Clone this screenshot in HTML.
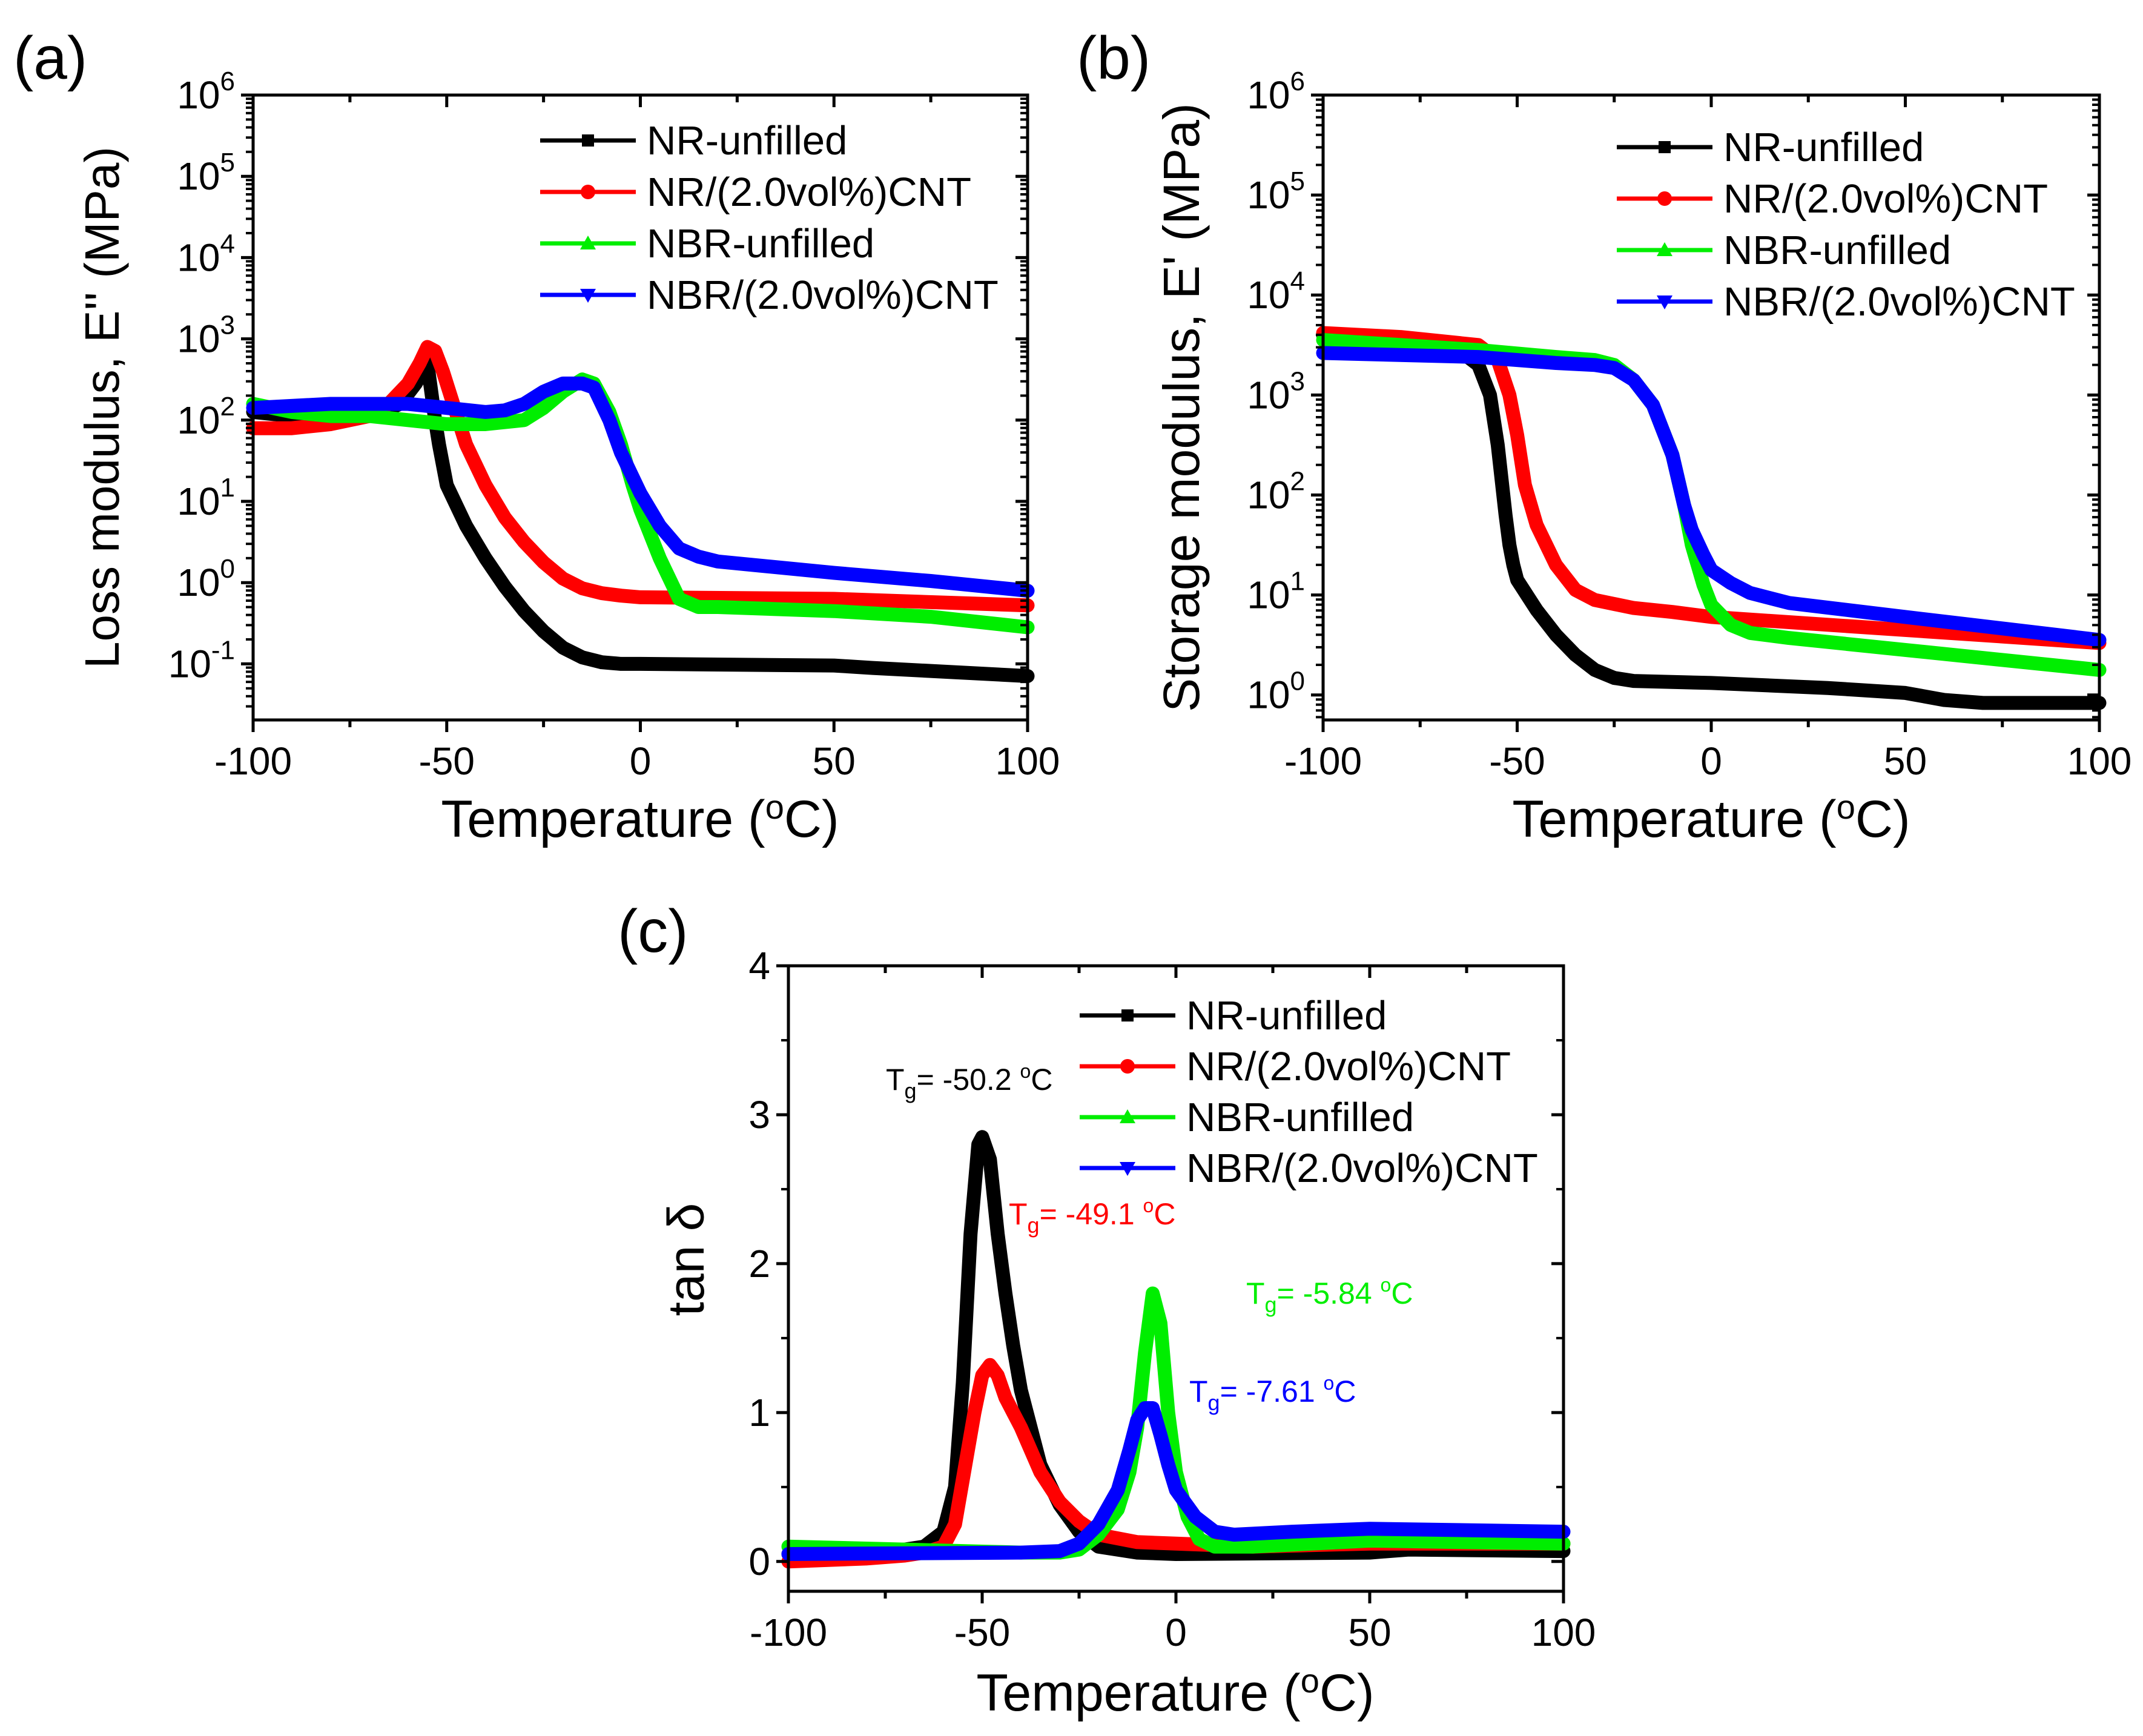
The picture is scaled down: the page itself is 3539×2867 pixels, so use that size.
<!DOCTYPE html>
<html><head><meta charset="utf-8"><style>
html,body{margin:0;padding:0;background:#fff;}
svg{display:block;font-family:"Liberation Sans",sans-serif;}
</style></head><body>
<svg id="fig" width="3539" height="2867" viewBox="0 0 3539 2867" xmlns="http://www.w3.org/2000/svg">
<text x="22" y="130" font-size="100">(a)</text>
<text x="1778" y="130" font-size="100">(b)</text>
<text x="1020" y="1572" font-size="100">(c)</text>
</svg>
<script>
const seriesNames=["NR-unfilled","NR/(2.0vol%)CNT","NBR-unfilled","NBR/(2.0vol%)CNT"];
const colors=["#000000","#ff0000","#00ee00","#0000ff"];
const xTicks=[-100,-50,0,50,100];
// Panel a: loss modulus, log10 values
const aT=[[-100,-90,-80,-70,-62,-58,-55,-53,-52,-50,-45,-40,-35,-30,-25,-20,-15,-10,-5,0,50,60,100],
 [-100,-90,-80,-70,-65,-60,-57,-55,-53,-51,-49,-47,-45,-40,-35,-30,-25,-20,-15,-10,-5,0,50,100],
 [-100,-90,-80,-70,-60,-50,-40,-30,-25,-20,-15,-12,-8,-5,-2,0,5,10,15,20,50,75,100],
 [-100,-80,-70,-60,-50,-40,-35,-30,-25,-20,-15,-12,-8,-5,0,5,10,15,20,50,75,100]];
const aV=[[2.1,2.05,2.05,2.05,2.2,2.45,2.7,2.0,1.7,1.2,0.7,0.3,-0.05,-0.35,-0.6,-0.8,-0.92,-0.98,-1.0,-1.0,-1.02,-1.05,-1.15],
 [1.9,1.9,1.95,2.05,2.2,2.45,2.7,2.9,2.85,2.6,2.3,2.0,1.7,1.2,0.8,0.5,0.25,0.05,-0.07,-0.13,-0.16,-0.18,-0.2,-0.28],
 [2.2,2.1,2.05,2.05,2.0,1.95,1.95,2.0,2.15,2.35,2.5,2.45,2.1,1.7,1.2,0.9,0.3,-0.2,-0.3,-0.3,-0.35,-0.42,-0.55],
 [2.15,2.2,2.2,2.2,2.15,2.1,2.12,2.2,2.35,2.45,2.45,2.4,2.0,1.6,1.1,0.7,0.42,0.32,0.26,0.12,0.02,-0.1]];
// Panel b: storage modulus, log10 values
const bT=[[-100,-80,-70,-65,-60,-57,-55,-53,-52,-51,-50,-45,-40,-35,-30,-25,-20,0,30,50,60,70,100],
 [-100,-80,-60,-55,-52,-50,-48,-45,-40,-35,-30,-20,-10,0,50,100],
 [-100,-60,-40,-30,-25,-20,-15,-10,-7,-5,-2,0,5,10,20,50,100],
 [-100,-60,-40,-30,-25,-20,-15,-10,-7,-5,-2,0,5,10,20,50,100]];
const bV=[[3.6,3.55,3.5,3.45,3.3,3.0,2.5,1.8,1.5,1.3,1.15,0.85,0.6,0.4,0.25,0.17,0.14,0.12,0.07,0.02,-0.05,-0.08,-0.08],
 [3.62,3.58,3.5,3.35,3.0,2.6,2.1,1.7,1.3,1.05,0.95,0.87,0.83,0.78,0.65,0.52],
 [3.55,3.45,3.38,3.35,3.3,3.15,2.9,2.4,1.9,1.5,1.1,0.9,0.7,0.62,0.57,0.45,0.25],
 [3.42,3.38,3.32,3.3,3.27,3.15,2.9,2.4,1.9,1.65,1.4,1.25,1.12,1.02,0.92,0.78,0.55]];
// Panel c: tan delta
const cT=[[-100,-80,-70,-65,-60,-57,-55,-53,-52,-51,-50,-48,-46,-44,-42,-40,-35,-30,-25,-20,-10,0,50,60,100],
 [-100,-80,-70,-65,-60,-57,-55,-52,-50,-48,-46,-44,-42,-40,-35,-30,-25,-20,-10,0,20,50,100],
 [-100,-70,-40,-30,-25,-20,-15,-12,-10,-8,-6,-4,-2,0,3,6,10,20,50,100],
 [-100,-40,-30,-25,-20,-15,-12,-10,-8,-6,-4,-2,0,5,10,15,30,50,100]];
const cV=[[0.05,0.07,0.08,0.1,0.2,0.5,1.2,2.2,2.5,2.8,2.85,2.7,2.2,1.8,1.45,1.15,0.65,0.38,0.2,0.1,0.06,0.05,0.06,0.08,0.07],
 [0.0,0.02,0.04,0.06,0.1,0.25,0.55,1.0,1.25,1.32,1.25,1.1,1.0,0.9,0.6,0.4,0.27,0.18,0.13,0.12,0.1,0.12,0.12],
 [0.1,0.08,0.06,0.06,0.08,0.18,0.35,0.6,0.9,1.4,1.8,1.6,1.0,0.6,0.3,0.15,0.1,0.1,0.14,0.12],
 [0.05,0.06,0.07,0.12,0.25,0.48,0.75,0.95,1.03,1.03,0.85,0.65,0.48,0.3,0.2,0.18,0.2,0.22,0.2]];
const cYTicks=[0,1,2,3,4];

const NS="http://www.w3.org/2000/svg";
const svg=document.getElementById('fig');
function mk(tag,attrs,parent){const e=document.createElementNS(NS,tag);for(const k in attrs)e.setAttribute(k,attrs[k]);(parent||svg).appendChild(e);return e;}

function panel(id,L,R,T,B,ymin,ymax,isLog,tS,vS,yTicks,minorY,legend){
  const g=mk('g',{});
  
  
  const sx=v=>L+(v+100)/200*(R-L);
  const sy=v=>B-(v-ymin)/(ymax-ymin)*(B-T);
  [0,1,2,3].forEach(i=>{
    let d='';
    tS[i].forEach((t,j)=>{d+=(j?'L':'M')+sx(t).toFixed(1)+' '+sy(vS[i][j]).toFixed(1);});
    const p=mk('path',{d:d,fill:'none',stroke:colors[i],'stroke-width':23,'stroke-linejoin':'round','stroke-linecap':'round'},g);
    
    
  });
  const fr=mk('rect',{x:L,y:T,width:R-L,height:B-T,fill:'none',stroke:'#000','stroke-width':5},g);
  
  
  for(let v=-100;v<=100;v+=25){
    const major=v%50===0, len=major?20:12;
    mk('line',{x1:sx(v),x2:sx(v),y1:B,y2:B+len,stroke:'#000','stroke-width':5},g);
    mk('line',{x1:sx(v),x2:sx(v),y1:T,y2:T+len,stroke:'#000','stroke-width':5},g);
  }
  xTicks.forEach(v=>{
    const t=mk('text',{x:sx(v),y:B+90,'font-size':64,'text-anchor':'middle'},g);
    t.textContent=v;
    
    
  });
  yTicks.forEach(v=>{
    mk('line',{x1:L-20,x2:L,y1:sy(v),y2:sy(v),stroke:'#000','stroke-width':5},g);
    mk('line',{x1:R-20,x2:R,y1:sy(v),y2:sy(v),stroke:'#000','stroke-width':5},g);
    let t=mk('text',{x:L-30,y:sy(v)+22,'font-size':64,'text-anchor':'end'},g);
    if(isLog){
      const a=mk('tspan',{},t);a.textContent='10';
      const b=mk('tspan',{dy:-30,'font-size':44},t);b.textContent=v;
    }else{
      t.textContent=v;
    }
    
    
  });
  minorY.forEach(v=>{
    if(v<ymin||v>ymax)return;
    mk('line',{x1:L-12,x2:L,y1:sy(v),y2:sy(v),stroke:'#000','stroke-width':4},g);
    mk('line',{x1:R-12,x2:R,y1:sy(v),y2:sy(v),stroke:'#000','stroke-width':4},g);
  });
  seriesNames.forEach((n,i)=>{
    const y=legend.y+i*legend.dy, x0=legend.x;
    const lg=mk('g',{},g);
    
    
    mk('line',{x1:x0,x2:x0+158,y1:y,y2:y,stroke:colors[i],'stroke-width':7},lg);
    const cx=x0+79;
    if(i===0)mk('rect',{x:cx-10,y:y-10,width:20,height:20,fill:colors[i]},lg);
    if(i===1)mk('circle',{cx:cx,cy:y,r:12,fill:colors[i]},lg);
    if(i===2)mk('polygon',{points:`${cx-13},${y+10} ${cx+13},${y+10} ${cx},${y-13}`,fill:colors[i]},lg);
    if(i===3)mk('polygon',{points:`${cx-13},${y-10} ${cx+13},${y-10} ${cx},${y+13}`,fill:colors[i]},lg);
    const t=mk('text',{x:x0+176,y:y+23,'font-size':67},lg);t.textContent=n;
  });
  return {sx,sy};
}
function logMinor(lo,hi){const a=[];for(let d=lo;d<hi;d++)for(let k=2;k<=9;k++)a.push(d+Math.log10(k));return a;}

panel('loss-modulus',418,1697,157,1189,-1.69,6,true,aT,aV,[-1,0,1,2,3,4,5,6],logMinor(-2,6),{x:892,y:232,dy:85});
panel('storage-modulus',2185,3467,157,1189,-0.25,6,true,bT,bV,[0,1,2,3,4,5,6],logMinor(-1,6),{x:2670,y:243,dy:85});
panel('tan-delta',1302,2582,1595,2628,-0.2,4,false,cT,cV,cYTicks,[0.5,1.5,2.5,3.5],{x:1783,y:1677,dy:84});

function txt(x,y,s,size,name,rot,anchor,fill){
  const t=mk('text',{x:x,y:y,'font-size':size,'text-anchor':anchor||'middle',fill:fill||'#000'});
  if(rot)t.setAttribute('transform',`rotate(-90 ${x} ${y})`);
  t.innerHTML=s;
  
  
  return t;
}
txt(1057,1382,'Temperature (<tspan dy="-30" font-size="56">o</tspan><tspan dy="30">C)</tspan>',86,'x-axis-title-a');
txt(2826,1382,'Temperature (<tspan dy="-30" font-size="56">o</tspan><tspan dy="30">C)</tspan>',86,'x-axis-title-b');
txt(1941,2825,'Temperature (<tspan dy="-30" font-size="56">o</tspan><tspan dy="30">C)</tspan>',86,'x-axis-title-c');
txt(196,673,'Loss modulus, E\'\' (MPa)',80,'y-axis-title-a',true);
txt(1980,673,'Storage modulus, E\' (MPa)',84,'y-axis-title-b',true);
txt(1162,2080,'tan δ',84,'y-axis-title-c',true);
function tg(x,y,val,col,name){
  txt(x,y,'T<tspan dy="14" font-size="36">g</tspan><tspan dy="-14">= '+val+' </tspan><tspan dy="-20" font-size="32">o</tspan><tspan dy="20">C</tspan>',50,name,false,'start',col);
}
tg(1463,1800,'-50.2','#000','tg-label-nr-unfilled');
tg(1666,2022,'-49.1','#ff0000','tg-label-nr-cnt');
tg(2058,2153,'-5.84','#00ee00','tg-label-nbr-unfilled');
tg(1964,2315,'-7.61','#0000ff','tg-label-nbr-cnt');
</script>
</body></html>
